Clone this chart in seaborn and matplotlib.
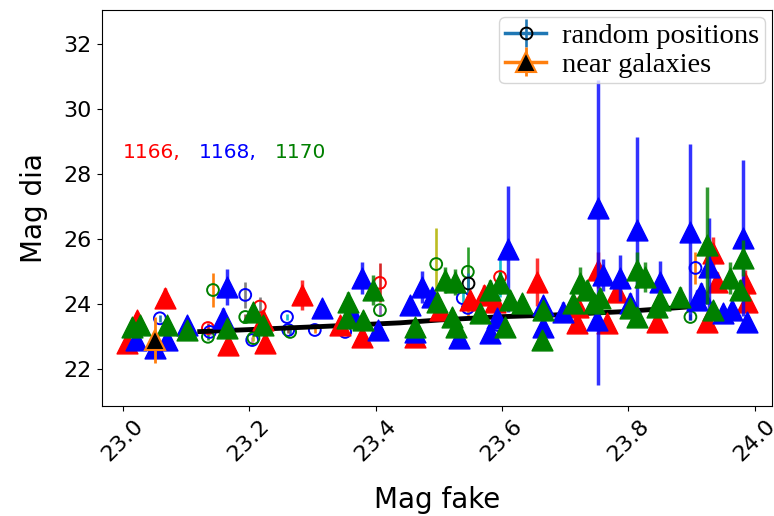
import numpy as np
import pandas as pd
import matplotlib
matplotlib.use("Agg")
import matplotlib.pyplot as plt
import seaborn as sns

# ---- detections near galaxies, one set per field ----
red_x = [23.007, 23.023, 23.067, 23.167, 23.222, 23.225, 23.284, 23.344, 23.379, 23.462,
         23.502, 23.550, 23.571, 23.589, 23.655, 23.719, 23.721, 23.752, 23.766, 23.782,
         23.845, 23.925, 23.933, 23.940, 23.985, 23.988]
red_y = [22.81, 23.52, 24.19, 22.75, 23.52, 22.81, 24.29, 23.36, 23.00, 23.00,
         23.82, 24.13, 24.29, 24.07, 24.69, 23.42, 23.93, 25.06, 23.42, 24.38,
         23.46, 23.46, 25.58, 24.69, 24.66, 24.07]
red_err = [0.15, 0.25, 0.3, 0.1, 0.3, 0.1, 0.45, 0.1, 0.1, 0.1,
           0.15, 0.2, 0.3, 0.2, 0.75, 0.15, 0.2, 0.55, 0.1, 0.3,
           0.15, 0.15, 0.5, 0.3, 0.4, 0.3]

blue_x = [23.021, 23.051, 23.070, 23.102, 23.159, 23.165, 23.315, 23.365, 23.379, 23.404,
          23.455, 23.462, 23.474, 23.490, 23.532, 23.581, 23.592, 23.610, 23.665, 23.665,
          23.697, 23.750, 23.752, 23.760, 23.787, 23.803, 23.814, 23.850, 23.898, 23.909,
          23.914, 23.928, 23.950, 23.964, 23.981, 23.988]
blue_y = [22.90, 22.66, 22.90, 23.36, 23.58, 24.53, 23.89, 23.67, 24.81, 23.21,
          23.98, 23.15, 24.53, 24.23, 22.96, 23.12, 23.58, 25.70, 23.98, 23.30,
          23.76, 23.52, 26.96, 24.90, 24.81, 24.04, 26.29, 24.69, 26.22, 24.13,
          24.35, 25.15, 23.73, 23.82, 26.04, 23.46]
blue_err_lo = [0.1, 0.1, 0.15, 0.15, 0.3, 0.55, 0.2, 0.2, 0.5, 0.15,
               0.2, 0.15, 0.5, 0.2, 0.15, 0.2, 0.2, 1.93, 0.2, 0.2,
               0.3, 0.3, 5.44, 0.5, 0.7, 0.3, 2.85, 0.65, 2.7, 0.3,
               0.3, 1.5, 0.2, 0.2, 2.4, 0.2]
blue_err_hi = [0.1, 0.1, 0.15, 0.15, 0.3, 0.55, 0.2, 0.2, 0.5, 0.15,
               0.2, 0.15, 0.5, 0.2, 0.15, 0.2, 0.2, 1.93, 0.2, 0.2,
               0.3, 0.3, 3.94, 0.5, 0.7, 0.3, 2.85, 0.65, 2.7, 0.3,
               0.3, 1.5, 0.2, 0.2, 2.4, 0.2]

green_x = [23.015, 23.027, 23.070, 23.102, 23.165, 23.206, 23.222, 23.357, 23.355, 23.380,
           23.396, 23.462, 23.497, 23.510, 23.526, 23.528, 23.521, 23.597, 23.581, 23.565,
           23.613, 23.632, 23.605, 23.663, 23.665, 23.724, 23.734, 23.713, 23.755, 23.745,
           23.803, 23.814, 23.814, 23.826, 23.850, 23.845, 23.882, 23.925, 23.934, 23.960,
           23.981, 23.976]
green_y = [23.30, 23.36, 23.36, 23.21, 23.27, 23.76, 23.36, 24.07, 23.58, 23.52,
           24.44, 23.30, 24.07, 24.75, 24.69, 23.30, 23.62, 24.66, 24.44, 23.73,
           24.13, 24.04, 23.30, 22.90, 23.82, 24.66, 24.44, 24.03, 24.19, 24.03,
           23.89, 23.61, 25.06, 24.84, 24.13, 23.93, 24.23, 25.82, 23.82, 24.81,
           25.42, 24.44]
green_err = [0.15, 0.15, 0.15, 0.1, 0.2, 0.2, 0.2, 0.3, 0.2, 0.2,
             0.45, 0.2, 0.25, 0.4, 0.4, 0.2, 0.2, 0.35, 0.3, 0.2,
             0.2, 0.2, 0.2, 0.15, 0.2, 0.5, 0.3, 0.2, 0.3, 0.2,
             0.2, 0.2, 0.55, 0.45, 0.3, 0.2, 0.3, 1.8, 0.2, 0.5,
             0.55, 0.3]

# ---- detections at random positions ----
rand_x = [23.059, 23.143, 23.135, 23.135, 23.138, 23.194, 23.194, 23.205, 23.207, 23.217,
          23.260, 23.265, 23.262, 23.304, 23.352, 23.407, 23.407, 23.496, 23.546, 23.538,
          23.546, 23.597, 23.594, 23.898, 23.906]
rand_y = [23.57, 24.44, 23.27, 23.00, 23.15, 24.29, 23.61, 22.90, 22.96, 23.93,
          23.61, 23.15, 23.21, 23.21, 23.15, 24.66, 23.82, 25.24, 25.00, 24.19,
          23.89, 24.84, 23.36, 23.61, 25.12]
rand_err = [0.1, 0.51, 0.15, 0.1, 0.1, 0.41, 0.1, 0.1, 0.1, 0.3,
            0.1, 0.1, 0.1, 0.1, 0.1, 0.6, 0.15, 1.1, 0.76, 0.2,
            0.25, 0.6, 0.1, 0.1, 0.5]
rand_field = ["1168", "1170", "1166", "1170", "1168", "1168", "1170", "1168", "1170", "1166",
              "1168", "1170", "1168", "1168", "1168", "1166", "1170", "1170", "1170", "1168",
              "1168", "1166", "1168", "1170", "1168"]

# reference points carrying the legend labels
rand_ref = (23.546, 24.66, 0.3)
near_ref = (23.051, 22.90, 0.7)

# running trend
trend_x = [23.122, 23.186, 23.307, 23.439, 23.502, 23.600, 23.681, 23.787, 23.902]
trend_y = [23.16, 23.21, 23.31, 23.43, 23.52, 23.62, 23.67, 23.77, 23.93]

fields = ["1166", "1168", "1170"]
field_colors = {"1166": "r", "1168": "b", "1170": "g"}
bar_cycle = ["C0", "C1", "C3", "C2", "C4", "C7", "C5", "C6", "C8", "C7",
             "C9", "C0", "C5", "C1", "C2", "C3", "C4", "C8", "C2", "C9",
             "C1", "C9", "C6", "C2", "C1"]

near = pd.concat([
    pd.DataFrame({"mag_fake": red_x, "mag_dia": red_y, "lo": red_err, "hi": red_err, "field": "1166"}),
    pd.DataFrame({"mag_fake": blue_x, "mag_dia": blue_y, "lo": blue_err_lo, "hi": blue_err_hi, "field": "1168"}),
    pd.DataFrame({"mag_fake": green_x, "mag_dia": green_y, "lo": green_err, "hi": green_err, "field": "1170"}),
], ignore_index=True)
rand = pd.DataFrame({"mag_fake": rand_x, "mag_dia": rand_y, "err": rand_err, "field": rand_field})

fig = plt.figure(figsize=(7.74, 5.16), dpi=100)
ax = fig.add_axes([0.1314, 0.2132, 0.8660, 0.7674])

# random positions: hollow circles, error bars in cycle colours
for i, row in rand.iterrows():
    ax.errorbar(row.mag_fake, row.mag_dia, yerr=row.err, fmt="none",
                ecolor=bar_cycle[i], elinewidth=1.9, zorder=1.5)
for f in fields:
    sub = rand[rand.field == f]
    sns.scatterplot(data=sub, x="mag_fake", y="mag_dia", marker="o", s=8.5 ** 2,
                    facecolors="none", edgecolor=field_colors[f], linewidth=1.4,
                    legend=False, zorder=2, ax=ax)
rp = ax.errorbar([rand_ref[0]], [rand_ref[1]], yerr=[rand_ref[2]], fmt="-o", color="C0",
                 mfc="none", mec="k", ms=8.5, mew=1.4, elinewidth=1.9, lw=2.5, zorder=2,
                 label="random positions")

# running trend
sns.lineplot(x=trend_x, y=trend_y, color="k", lw=3.5, zorder=2.5, ax=ax)

# near galaxies: filled triangles per field
z = 3
for f in fields:
    sub = near[near.field == f]
    ax.errorbar(sub.mag_fake, sub.mag_dia, yerr=[sub.lo, sub.hi], fmt="none",
                ecolor=field_colors[f], elinewidth=2.5, alpha=0.8, zorder=z)
    sns.scatterplot(data=sub, x="mag_fake", y="mag_dia", marker="^", s=15 ** 2,
                    color=field_colors[f], edgecolor=field_colors[f], linewidth=1.0,
                    legend=False, zorder=z + 0.1, ax=ax)
    z += 0.2
ng = ax.errorbar([near_ref[0]], [near_ref[1]], yerr=[near_ref[2]], fmt="-^", color="C1",
                 mfc="k", ms=15, mew=1.5, elinewidth=2.0, lw=2.5, zorder=z,
                 label="near galaxies")

# field labels
for xt, f in zip([23.0, 23.12, 23.24], ["1166,", "1168,", "1170"]):
    ax.text(xt, 28.5, f, color=field_colors[f.rstrip(",")], fontsize=14.5)

ax.set_xlim(22.967, 24.027)
ax.set_ylim(20.87, 33.06)
ax.set_xticks([23.0, 23.2, 23.4, 23.6, 23.8, 24.0])
ax.set_yticks([22, 24, 26, 28, 30, 32])
ax.tick_params(axis="both", labelsize=16)
plt.setp(ax.get_xticklabels(), rotation=45)
ax.set_xlabel("Mag fake", fontsize=20, labelpad=15)
ax.set_ylabel("Mag dia", fontsize=20, labelpad=11)

ax.legend(handles=[rp, ng], loc="upper right", borderaxespad=0.25,
          prop={"family": "Liberation Serif", "size": 20.5},
          handlelength=1.45, handletextpad=0.55, labelspacing=0.1, borderpad=0.2)

fig.savefig("out.png", dpi=100)
